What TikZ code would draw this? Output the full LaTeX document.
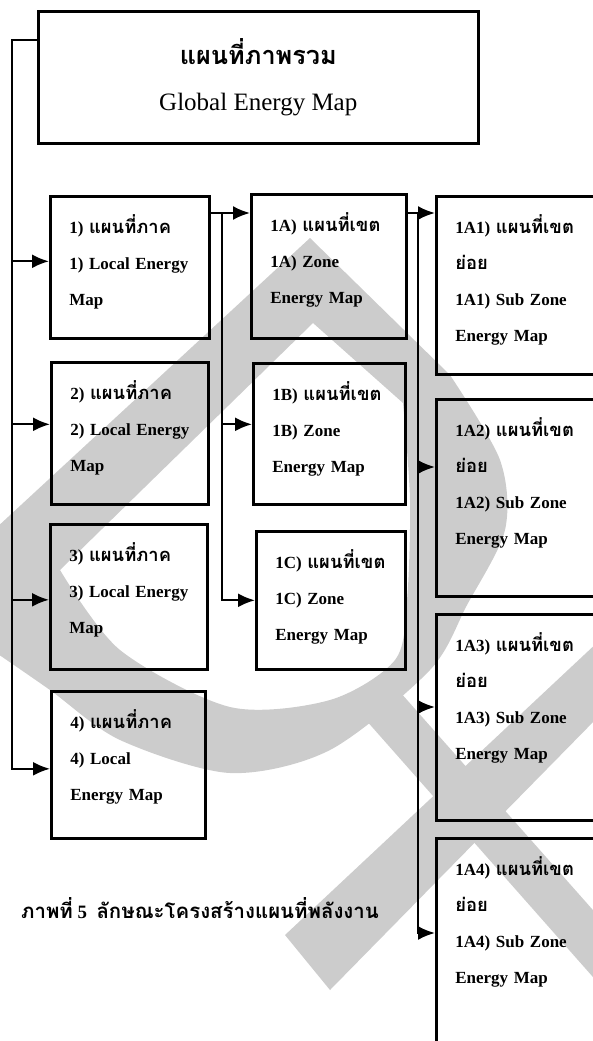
\documentclass[tikz,border=0pt]{standalone}
\usepackage{fontspec}
\setmainfont{Liberation Serif}
\newfontfamily\thaifont[Script=Thai,Scale=1.08]{Loma}
\usetikzlibrary{arrows.meta}
\definecolor{wmgrey}{gray}{0.8}
\newcommand{\thw}[1]{{\thaifont #1}}

\begin{document}
\begin{tikzpicture}[x=1pt, y=-1pt,
    mapbox/.style={draw, line width=2.6pt, anchor=north west, align=left,
      inner xsep=19pt, inner ysep=0pt, text height=37pt,
      font=\bfseries\fontsize{17}{36}\selectfont},
    feed/.style={line width=2.2pt, -{Latex[length=17pt,width=14pt]}}]
  \useasboundingbox (0,0) rectangle (592,1041);
  % Watermark
  \fill[wmgrey, even odd rule]
    (-5,529) -- (310,238) -- plot[smooth] coordinates {(450,375) (500,460) (505,530) (467,605) (430,670) (330,750) (230,773) (120,740) (50,690) (-5,652)} -- cycle
    (60,570) -- (313,323) -- plot[smooth] coordinates {(403,403) (410,500) (407,600) (395,660) (330,700) (230,707) (120,650) (60,570)} -- cycle;
  \fill[wmgrey] (285,935) -- (330,990) -- (600,715) -- (600,640) -- cycle;
  \fill[wmgrey] (350,702) -- (400,692) -- (600,918) -- (600,985) -- cycle;

  % Global map
  \node[draw, line width=2.6pt, anchor=north west, minimum width=440pt,
        minimum height=132pt, align=center,
        font=\fontsize{25}{46}\selectfont] (glob) at (37,10)
        {{\thaifont\bfseries\fontsize{23.4}{46}\selectfont แผนที่ภาพรวม}\\Global Energy Map};

  % Local maps
  \node[mapbox, text width=121pt, text depth=105pt] (loc1) at (49,195)
        {1) \thw{แผนที่ภาค}\\1) Local Energy\\Map};
  \node[mapbox, text width=119pt, text depth=105pt] (loc2) at (50,361)
        {2) \thw{แผนที่ภาค}\\2) Local Energy\\Map};
  \node[mapbox, text width=119pt, text depth=108pt] (loc3) at (49,523)
        {3) \thw{แผนที่ภาค}\\3) Local Energy\\Map};
  \node[mapbox, text width=116pt, text depth=110pt] (loc4) at (50,690)
        {4) \thw{แผนที่ภาค}\\4) Local\\Energy Map};

  % Zone maps
  \node[mapbox, text width=117pt, text depth=107pt] (zoneA) at (250,193)
        {1A) \thw{แผนที่เขต}\\1A) Zone\\Energy Map};
  \node[mapbox, text width=114pt, text depth=104pt] (zoneB) at (252,362)
        {1B) \thw{แผนที่เขต}\\1B) Zone\\Energy Map};
  \node[mapbox, text width=111pt, text depth=101pt] (zoneC) at (255,530)
        {1C) \thw{แผนที่เขต}\\1C) Zone\\Energy Map};

  % Sub zone maps
  \node[mapbox, text width=162pt, text depth=141pt] (sub1) at (435,195)
        {1A1) \thw{แผนที่เขต}\\\thw{ย่อย}\\1A1) Sub Zone\\Energy Map};
  \node[mapbox, text width=162pt, text depth=160pt] (sub2) at (435,398)
        {1A2) \thw{แผนที่เขต}\\\thw{ย่อย}\\1A2) Sub Zone\\Energy Map};
  \node[mapbox, text width=162pt, text depth=169pt] (sub3) at (435,613)
        {1A3) \thw{แผนที่เขต}\\\thw{ย่อย}\\1A3) Sub Zone\\Energy Map};
  \node[mapbox, text width=162pt, text depth=230pt] (sub4) at (435,837)
        {1A4) \thw{แผนที่เขต}\\\thw{ย่อย}\\1A4) Sub Zone\\Energy Map};

  % Caption
  \node[font=\bfseries\fontsize{18.9}{22}\selectfont] (cap) at (200,908)
        {\thw{ภาพที่} 5\ \ \thw{ลักษณะโครงสร้างแผนที่พลังงาน}};

  % Connectors
  \coordinate (busL) at (12,40);
  \coordinate (j1) at (222,213);
  \coordinate (j2) at (418,213);
  \draw[feed] (busL -| glob.west) -- (busL) |- ([yshift=-4pt]loc4.west);
  \draw[feed] ([yshift=6pt]loc1.west -| busL) -- ([yshift=6pt]loc1.west);
  \draw[feed] ([yshift=9pt]loc2.west -| busL) -- ([yshift=9pt]loc2.west);
  \draw[feed] ([yshift=-3pt]loc3.west -| busL) -- ([yshift=-3pt]loc3.west);

  \draw[feed] (j1 -| loc1.east) -- (j1 -| zoneA.west);
  \draw[feed] (j1) |- (zoneC.west);
  \draw[feed] ([yshift=9.5pt]zoneB.west -| j1) -- ([yshift=9.5pt]zoneB.west);

  \draw[feed] (j2 -| zoneA.east) -- (j2 -| sub1.west);
  \draw[feed] (j2) |- ([yshift=-96pt]sub4.north west);
  \draw[feed] ([yshift=-69pt]sub2.north west -| j2) -- ([yshift=-69pt]sub2.north west);
  \draw[feed] ([yshift=-94pt]sub3.north west -| j2) -- ([yshift=-94pt]sub3.north west);
\end{tikzpicture}
\end{document}
